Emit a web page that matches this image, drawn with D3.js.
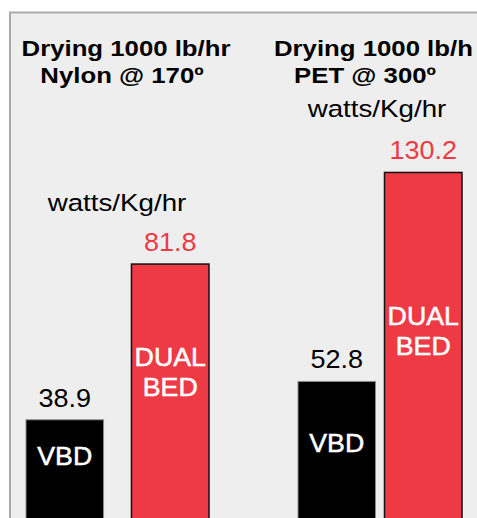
<!DOCTYPE html>
<html>
<head>
<meta charset="utf-8">
<script src="https://cdn.jsdelivr.net/npm/d3@7"></script>
<style>
  body { margin: 0; background: #fff; }
  svg { display: block; font-family: "Liberation Sans", Arial, Helvetica, sans-serif; }
</style>
</head>
<body>
<div id="chart"></div>
<script>
// datos del grafico
var paneles = ["Nylon", "PET"];
var titulos1 = ["Drying 1000 lb/hr", "Drying 1000 lb/h"];
var titulos2 = ["Nylon @ 170º", "PET @ 300º"];
var unidad = "watts/Kg/hr";
var equipos = ["VBD", "DUAL BED"];
var valoresNylon = [38.9, 81.8];
var valoresPET = [52.8, 130.2];

var width = 477;
var height = 518;
var rojo = "#ee3a44";

var svg = d3.select("#chart")
			.append("svg")
			.attr("width", width)
			.attr("height", height);

// el texto de la imagen esta un poco estirado a lo ancho
function texto(sel, x, y, sx){
	return sel.append("text")
		.attr("transform", "translate(" + x + "," + y + ") scale(" + sx + ",1)");
}

// recuadro gris
svg.append("rect")
	.attr("x", 10)
	.attr("y", 12.5)
	.attr("width", width)
	.attr("height", height)
	.attr("fill", "#eeeeee")
	.attr("stroke", "#a9a9a9")
	.attr("stroke-width", 2);

// cada panel tiene su propia escala (como en la imagen)
var config = [
	{ valores: valoresNylon, x: [26, 209], pad: 0.265, y: d3.scaleLinear().domain([0, 100]).range([561, 198]),
	  tx1: 126, tx2: 122, ux: 117, uy: 211, tituloAnchor: "middle", innerVBD: 45, innerDual: 102 },
	{ valores: valoresPET, x: [298, 462], pad: 0.104, y: d3.scaleLinear().domain([0, 150]).range([524, 119]),
	  tx1: 274, tx2: 365, ux: 377, uy: 117, tituloAnchor: "start", innerVBD: 71, innerDual: 153 }
];

config.forEach(function(c, i){
	var x = d3.scaleBand()
			  .domain(equipos)
			  .range(c.x)
			  .paddingInner(c.pad)
			  .paddingOuter(0);

	var g = svg.append("g").attr("class", "panel-" + paneles[i]);

	texto(g, c.tx1, 56, 1.12)
		.attr("text-anchor", c.tituloAnchor)
		.attr("font-weight", "bold")
		.attr("font-size", 23)
		.text(titulos1[i]);

	texto(g, c.tx2, 83, 1.12)
		.attr("text-anchor", "middle")
		.attr("font-weight", "bold")
		.attr("font-size", 23)
		.text(titulos2[i]);

	texto(g, c.ux, c.uy, 1.18)
		.attr("text-anchor", "middle")
		.attr("font-size", 23.5)
		.text(unidad);

	var barras = g.selectAll(".barra")
		.data(c.valores)
		.enter()
		.append("g")
		.attr("class", "barra");

	barras.append("rect")
		.attr("x", function(d, j){ return x(equipos[j]); })
		.attr("y", function(d){ return c.y(d); })
		.attr("width", x.bandwidth())
		.attr("height", function(d){ return c.y(0) - c.y(d); })
		.attr("fill", function(d, j){ return j == 0 ? "#000" : rojo; })
		.attr("stroke", function(d, j){ return j == 0 ? "#8a8a8a" : "#111"; })
		.attr("stroke-width", function(d, j){ return j == 0 ? 1 : 1.5; });

	// valor arriba de la barra
	barras.each(function(d, j){
		texto(d3.select(this), x(equipos[j]) + x.bandwidth() / 2, c.y(d) - 13, 1.08)
			.attr("text-anchor", "middle")
			.attr("font-size", 25)
			.attr("fill", j == 0 ? "#000" : rojo)
			.text(d.toFixed(1));

		// nombre dentro de la barra
		var t = texto(d3.select(this), x(equipos[j]) + x.bandwidth() / 2, c.y(d) + (j == 0 ? c.innerVBD : c.innerDual), 1.07)
			.attr("text-anchor", "middle")
			.attr("font-size", 25)
			.attr("fill", "#fff")
			.attr("stroke", "#fff")
			.attr("stroke-width", 0.5);

		t.selectAll("tspan")
			.data(equipos[j].split(" "))
			.enter()
			.append("tspan")
			.attr("x", 0)
			.attr("dy", function(s, k){ return k == 0 ? 0 : 30; })
			.text(function(s){ return s; });
	});
});
</script>
</body>
</html>
